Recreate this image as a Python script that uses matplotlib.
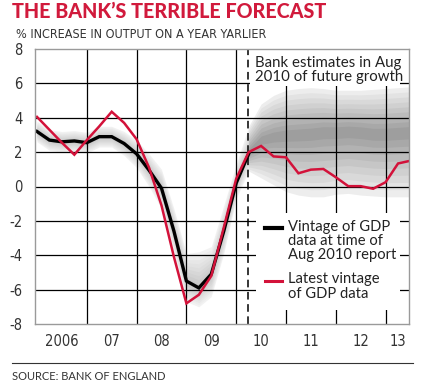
import numpy as np
import matplotlib
matplotlib.use("Agg")
import matplotlib.pyplot as plt
from matplotlib import font_manager as fm
from matplotlib.patches import Rectangle

# ---- data ----
QTR = [2006.0 + 0.25 * i for i in range(31)]  # 2006Q1 .. 2013Q3

# latest vintage of GDP data (red)
latest = [4.05, 3.3, 2.55, 1.85, 2.7, 3.5, 4.35, 3.7, 2.75, 1.1, -1.1, -4.1,
          -6.8, -6.3, -5.2, -2.4, 0.45, 2.0, 2.36, 1.75, 1.7, 0.77, 0.98, 1.02,
          0.54, 0.02, 0.02, -0.13, 0.25, 1.34, 1.5]

# vintage at time of Aug 2010 report (black), up to 2010Q2
vintage = [3.2, 2.7, 2.6, 2.65, 2.55, 2.9, 2.9, 2.5, 1.9, 0.95, -0.1, -2.6,
           -5.5, -5.9, -5.1, -2.6, 0.2, 1.9]

# fan chart: centre, lower and upper outer bounds
fan_mid = vintage[:-1] + [2.0, 2.7, 2.9, 3.0, 3.05, 3.1, 3.2, 3.2, 3.25, 3.2,
                          3.1, 3.1, 3.15, 3.2]
fan_lo = [2.6, 2.1, 2.0, 2.05, 1.95, 2.3, 2.3, 1.8, 1.1, 0.0, -1.3, -3.9,
          -6.7, -7.0, -6.4, -3.9, -0.7, 0.9, 0.5, 0.1, -0.3, -0.5, -0.6, -0.6,
          -0.45, -0.4, -0.5, -0.55, -0.6, -0.6, -0.6]
fan_hi = [3.8, 3.3, 3.2, 3.25, 3.15, 3.5, 3.5, 3.2, 2.7, 1.9, 1.0, -1.3,
          -3.9, -3.8, -3.5, -1.1, 1.3, 3.5, 4.8, 5.3, 5.6, 5.7, 5.75, 5.7,
          5.6, 5.6, 5.6, 5.65, 5.7, 5.75, 5.8]

YEARS = [2006, 2007, 2008, 2009, 2010, 2011, 2012, 2013]
YEAR_LABELS = ["2006", "07", "08", "09", "10", "11", "12", "13"]
Y_TICKS = [-8, -6, -4, -2, 0, 2, 4, 6, 8]
FORECAST_START = 2010.24
SPLIT = 17  # index of 2010Q2, where the projection starts

RED = "#d3123a"
TITLE_RED = "#d11a3c"
SPINE = "#9a9a9a"
HUMAN = ["Lato", "DejaVu Sans"]


def narrow_font():
    # a condensed face if one is installed, else plain Liberation Sans
    for f in fm.fontManager.ttflist:
        nm = f.name.lower()
        if (("narrow" in nm or "condensed" in nm or "condensed" in str(f.stretch))
                and f.style == "normal" and f.weight in (400, "normal", "regular")):
            return fm.FontProperties(fname=f.fname), True
    return fm.FontProperties(family=["Liberation Sans", "DejaVu Sans"]), False


NARROW, HAS_NARROW = narrow_font()
TICK_SIZE = 10.5 if HAS_NARROW else 9.5
SUB_SIZE = 9.0 if HAS_NARROW else 7.4

fig = plt.figure(figsize=(4.25, 3.86), dpi=100)
ax = fig.add_axes([35 / 425, 1 - 324 / 386, 374 / 425, 275 / 386])

x = np.array(QTR)
mid, lo, hi = np.array(fan_mid), np.array(fan_lo), np.array(fan_hi)


def fan(sl, light, dark, n=9):
    for k in range(n):
        f = 1 - k / n
        c = light + (dark - light) * (k / (n - 1))
        ax.fill_between(x[sl], (mid - (mid - lo) * f)[sl], (mid + (hi - mid) * f)[sl],
                        color=(c, c, c), lw=0, zorder=1)


fan(slice(0, SPLIT + 1), 0.95, 0.78)
fan(slice(SPLIT, None), 0.93, 0.62)

# grid
for yv in Y_TICKS[1:-1]:
    ax.axhline(yv, color="black", lw=0.9, zorder=2)
for yr in YEARS[1:]:
    ax.axvline(yr, color="black", lw=0.9, zorder=2)

# white boxes behind annotation and legend
ax.add_patch(Rectangle((2010.27, 5.85), 3.01, 2.2, facecolor="white",
                       edgecolor="none", zorder=3))
ax.add_patch(Rectangle((2010.40, -7.2), 2.89, 5.63, facecolor="white",
                       edgecolor="none", zorder=3))

ax.axvline(FORECAST_START, color="black", lw=1.1, ls=(0, (5, 3)), zorder=4)

ax.plot(QTR[:len(vintage)], vintage, color="black", lw=2.4, zorder=5,
        solid_joinstyle="miter")
ax.plot(QTR, latest, color=RED, lw=1.8, zorder=6, solid_joinstyle="miter")

ax.text(2010.38, 7.62, "Bank estimates in Aug\n2010 of future growth",
        fontsize=10.8, family=HUMAN, color="#222222", va="top", ha="left",
        linespacing=1.0, zorder=7)

# legend
ax.plot([2010.58, 2010.92], [-2.44, -2.44], color="black", lw=3, zorder=7)
ax.plot([2010.58, 2010.92], [-5.52, -5.52], color=RED, lw=2.2, zorder=7)
ax.text(2011.04, -1.95, "Vintage of GDP\ndata at time of\nAug 2010 report",
        fontsize=10.6, family=HUMAN, color="#222222", va="top", ha="left",
        linespacing=1.02, zorder=7)
ax.text(2011.04, -5.0, "Latest vintage\nof GDP data",
        fontsize=10.6, family=HUMAN, color="#222222", va="top", ha="left",
        linespacing=1.02, zorder=7)

ax.set_xlim(2005.96, 2013.47)
ax.set_ylim(-8, 8)
for s in ax.spines.values():
    s.set_color(SPINE)
    s.set_linewidth(1)
    s.set_zorder(8)

ax.set_yticks(Y_TICKS)
ax.set_yticklabels([str(v) for v in Y_TICKS], fontproperties=NARROW,
                   fontsize=TICK_SIZE, color="#333333")
ax.get_yticklabels()[4].set_fontweight("bold")
ax.set_xticks([y + 0.5 for y in YEARS[:-1]] + [2013.24])
ax.set_xticklabels(YEAR_LABELS, fontproperties=NARROW, fontsize=TICK_SIZE,
                   color="#333333")
ax.tick_params(length=0, pad=7)
ax.tick_params(axis="y", pad=9)

fig.text(12 / 425, 1 - 12 / 386, "THE BANK\u2019S TERRIBLE FORECAST",
         color=TITLE_RED, fontsize=14.2, fontweight="black", family=HUMAN,
         va="center", ha="left")
fig.text(16 / 425, 1 - 34 / 386, "% INCREASE IN OUTPUT ON A YEAR YARLIER",
         color="#333333", fontproperties=NARROW, fontsize=SUB_SIZE,
         va="center", ha="left")
fig.add_artist(plt.Line2D([12 / 425, 413 / 425], [1 - 363 / 386, 1 - 363 / 386],
                          color="#333333", lw=0.8))
fig.text(12 / 425, 1 - 376 / 386, "SOURCE: BANK OF ENGLAND", color="#333333",
         fontsize=8, family=HUMAN, va="center", ha="left")

fig.savefig("out.png", dpi=100)
